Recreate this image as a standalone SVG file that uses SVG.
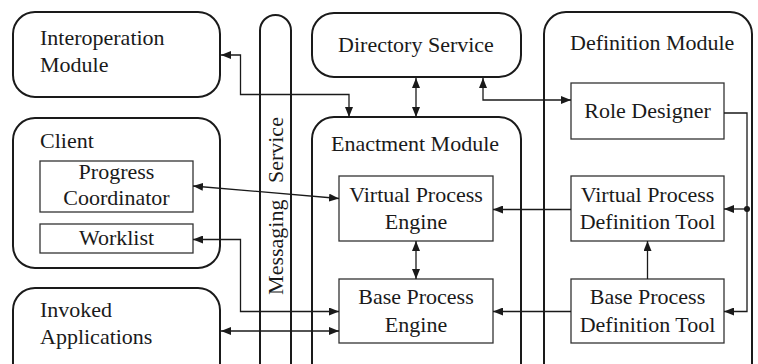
<svg xmlns="http://www.w3.org/2000/svg" width="758" height="364" viewBox="0 0 758 364">
  <style>
    .mod { fill: #fff; stroke: #1a1a1a; stroke-width: 2; }
    .box { fill: #fff; stroke: #333; stroke-width: 1.3; }
    .lbl { font-family: "Liberation Serif", "Noto Serif", "DejaVu Serif", FreeSerif, serif; font-size: 22px; fill: #1a1a1a; }
    .mid { text-anchor: middle; }
    .wire { fill: none; stroke: #1a1a1a; stroke-width: 1.3; }
  </style>
  <defs>
    <marker id="ah" viewBox="0 0 10 8" refX="10" refY="4" markerWidth="10" markerHeight="8" markerUnits="userSpaceOnUse" orient="auto-start-reverse">
      <path d="M0,0 L10,4 L0,8 Z" fill="#1a1a1a"/>
    </marker>
  </defs>
  <rect width="758" height="364" fill="#fff"/>

  <g id="interoperation-module">
    <rect class="mod" x="13" y="12" width="207" height="85" rx="22"/>
    <text class="lbl" x="40" y="45">Interoperation</text>
    <text class="lbl" x="40" y="72">Module</text>
  </g>

  <g id="messaging-service">
    <rect class="mod" x="260" y="15" width="31" height="380" rx="15.5"/>
    <text class="lbl mid" transform="translate(283,206) rotate(-90)" xml:space="preserve">Messaging   Service</text>
  </g>

  <g id="directory-service">
    <rect class="mod" x="312" y="13" width="209" height="64" rx="22"/>
    <text class="lbl mid" x="416" y="52">Directory Service</text>
  </g>

  <g id="enactment-module">
    <rect class="mod" x="312" y="117" width="209" height="270" rx="22"/>
    <text class="lbl" x="331" y="151">Enactment Module</text>
  </g>

  <g id="definition-module">
    <rect class="mod" x="544" y="12" width="208" height="375" rx="22"/>
    <text class="lbl" x="570" y="50">Definition Module</text>
  </g>

  <g id="client">
    <rect class="mod" x="13" y="118" width="207" height="150" rx="22"/>
    <text class="lbl" x="40" y="148">Client</text>
  </g>

  <g id="invoked-applications">
    <rect class="mod" x="13" y="288" width="207" height="100" rx="22"/>
    <text class="lbl" x="40" y="317">Invoked</text>
    <text class="lbl" x="40" y="344">Applications</text>
  </g>

  <g id="progress-coordinator">
    <rect class="box" x="40" y="161" width="153" height="51"/>
    <text class="lbl mid" x="116.5" y="179">Progress</text>
    <text class="lbl mid" x="116.5" y="205">Coordinator</text>
  </g>

  <g id="worklist">
    <rect class="box" x="40" y="224" width="153" height="29"/>
    <text class="lbl mid" x="116.5" y="245">Worklist</text>
  </g>

  <g id="virtual-process-engine">
    <rect class="box" x="339" y="176" width="154" height="65"/>
    <text class="lbl mid" x="416" y="202">Virtual Process</text>
    <text class="lbl mid" x="416" y="229">Engine</text>
  </g>

  <g id="base-process-engine">
    <rect class="box" x="339" y="279" width="154" height="64"/>
    <text class="lbl mid" x="416" y="304">Base Process</text>
    <text class="lbl mid" x="416" y="332">Engine</text>
  </g>

  <g id="role-designer">
    <rect class="box" x="571" y="83" width="153" height="56"/>
    <text class="lbl mid" x="647.5" y="118">Role Designer</text>
  </g>

  <g id="virtual-process-definition-tool">
    <rect class="box" x="571" y="176" width="153" height="65"/>
    <text class="lbl mid" x="647.5" y="202">Virtual Process</text>
    <text class="lbl mid" x="647.5" y="229">Definition Tool</text>
  </g>

  <g id="base-process-definition-tool">
    <rect class="box" x="571" y="279" width="153" height="64"/>
    <text class="lbl mid" x="647.5" y="304">Base Process</text>
    <text class="lbl mid" x="647.5" y="332">Definition Tool</text>
  </g>

  <g id="connectors">
    <!-- interoperation <-> enactment -->
    <path class="wire" d="M221,55 H240.5 V94.5 H349 V117" marker-start="url(#ah)" marker-end="url(#ah)"/>
    <!-- directory <-> enactment -->
    <path class="wire" d="M416,78 V117" marker-start="url(#ah)" marker-end="url(#ah)"/>
    <!-- directory <-> role designer -->
    <path class="wire" d="M483,78 V100 H571" marker-start="url(#ah)" marker-end="url(#ah)"/>
    <!-- role designer feeds both definition tools -->
    <path class="wire" d="M724,113 H747 V311.5 H724" marker-end="url(#ah)"/>
    <path class="wire" d="M747,209 H724" marker-end="url(#ah)"/>
    <circle cx="747" cy="209" r="3" fill="#1a1a1a"/>
    <!-- definition tools -> engines -->
    <path class="wire" d="M571,209.5 H493" marker-end="url(#ah)"/>
    <path class="wire" d="M571,311.5 H493" marker-end="url(#ah)"/>
    <path class="wire" d="M647.5,279 V241" marker-end="url(#ah)"/>
    <!-- engine <-> engine -->
    <path class="wire" d="M416,241 V279" marker-start="url(#ah)" marker-end="url(#ah)"/>
    <!-- client links -->
    <path class="wire" d="M193,186 L339,198.5" marker-start="url(#ah)" marker-end="url(#ah)"/>
    <path class="wire" d="M193,239.5 H240.5 V311.5 H339" marker-start="url(#ah)" marker-end="url(#ah)"/>
    <!-- invoked applications <-> base engine -->
    <path class="wire" d="M221,331 H339" marker-start="url(#ah)" marker-end="url(#ah)"/>
  </g>
</svg>
